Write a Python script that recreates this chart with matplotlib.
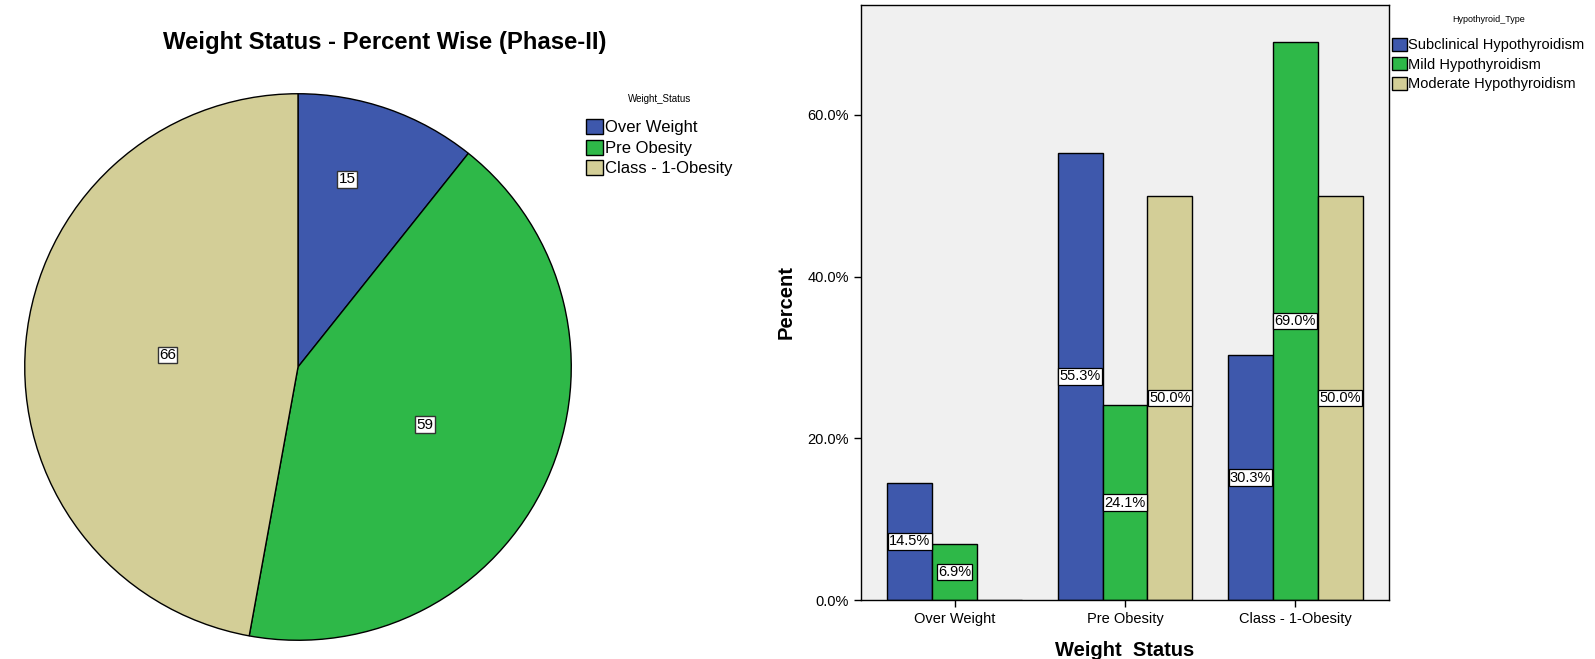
import matplotlib
matplotlib.use("Agg")
import matplotlib.pyplot as plt
from matplotlib.patches import Patch
import numpy as np

plt.rcParams['font.family'] = ['Liberation Sans', 'DejaVu Sans']

# ---- data ----
pie_labels = ["Over Weight", "Pre Obesity", "Class - 1-Obesity"]
pie_counts = [15, 59, 66]
pie_label_radius = [0.71, 0.51, 0.48]
pie_label_frac = [0.38, 0.5, 0.5]

bar_categories = ["Over Weight", "Pre Obesity", "Class - 1-Obesity"]
series_names = ["Subclinical Hypothyroidism", "Mild Hypothyroidism", "Moderate Hypothyroidism"]
subclinical = [14.5, 55.3, 30.3]
mild = [6.9, 24.1, 69.0]
moderate = [0.0, 50.0, 50.0]
yticks = [0, 20, 40, 60]

colors = ["#3E58AC", "#2EB848", "#D3CE97"]
bg = "#F0F0F0"

W, H = 1595, 659
fig = plt.figure(figsize=(W / 100, H / 100), dpi=100)

# ---- pie ----
cx, cy, r = 298, 367, 276
axp = fig.add_axes([(cx - r) / W, (H - cy - r) / H, 2 * r / W, 2 * r / H])
wedges, _ = axp.pie(pie_counts, colors=colors, startangle=90, counterclock=False,
                    wedgeprops=dict(edgecolor="black", linewidth=1.0), radius=1)
axp.set_xlim(-1.01, 1.01)
axp.set_ylim(-1.01, 1.01)
axp.set_aspect('equal')
for w, v, rf, fr in zip(wedges, pie_counts, pie_label_radius, pie_label_frac):
    # clockwise wedges: theta2 is the start angle
    ang = np.deg2rad(w.theta2 - fr * (w.theta2 - w.theta1))
    axp.text(rf * np.cos(ang), rf * np.sin(ang), str(v), ha='center', va='center',
             fontsize=11,
             bbox=dict(boxstyle='square,pad=0.08', facecolor='white', edgecolor='#333333', linewidth=1.0))

fig.text(385 / W, 1 - 42 / H, "Weight Status - Percent Wise (Phase-II)", ha='center', va='center',
         fontsize=17.2, fontweight='bold')

handles = [Patch(facecolor=c, edgecolor='black', linewidth=1) for c in colors]
leg1 = fig.legend(handles, pie_labels, loc='upper left', bbox_to_anchor=(586 / W, 1 - 94 / H),
                  frameon=False, fontsize=12, title="Weight_Status", title_fontsize=7,
                  handlelength=1.0, handleheight=1.0, handletextpad=0.15, labelspacing=0.25,
                  borderpad=0, borderaxespad=0)
leg1._legend_box.sep = 11

# ---- bars ----
axb = fig.add_axes([861 / W, 59 / H, 528 / W, 595 / H])
axb.set_facecolor(bg)
x = np.arange(len(bar_categories))
bw = 0.264
for i, (vals, c) in enumerate(zip([subclinical, mild, moderate], colors)):
    xs = x + (i - 1) * bw
    axb.bar(xs, vals, width=bw, color=c, edgecolor='black', linewidth=1.0, zorder=2)
    for xi, v in zip(xs, vals):
        if v > 0:
            axb.text(xi, v / 2, f"{v:.1f}%", ha='center', va='center', fontsize=10.5, zorder=3,
                     bbox=dict(boxstyle='square,pad=0.08', facecolor='white', edgecolor='black', linewidth=0.9))

axb.set_xlim(-0.55, 2.55)
axb.set_ylim(0, 73.6)
axb.set_yticks(yticks)
axb.set_yticklabels([f"{t:.1f}%" for t in yticks], fontsize=10.5)
axb.set_xticks(x)
axb.set_xticklabels(bar_categories, fontsize=10.5)
axb.tick_params(direction='out', length=5, width=1, color='black')
for s in axb.spines.values():
    s.set_color('black')
    s.set_linewidth(1.0)
axb.set_ylabel("Percent", fontsize=14.5, fontweight='bold', labelpad=9)
axb.set_xlabel("Weight  Status", fontsize=14.5, fontweight='bold', labelpad=11)

leg2 = fig.legend(handles, series_names, loc='upper left', bbox_to_anchor=(1392 / W, 1 - 15 / H),
                  frameon=False, fontsize=10.5, title="Hypothyroid_Type", title_fontsize=6.5,
                  handlelength=1.0, handleheight=1.0, handletextpad=0.1, labelspacing=0.33,
                  borderpad=0, borderaxespad=0)
leg2._legend_box.sep = 10

fig.savefig("out.png", dpi=100, facecolor='white')
